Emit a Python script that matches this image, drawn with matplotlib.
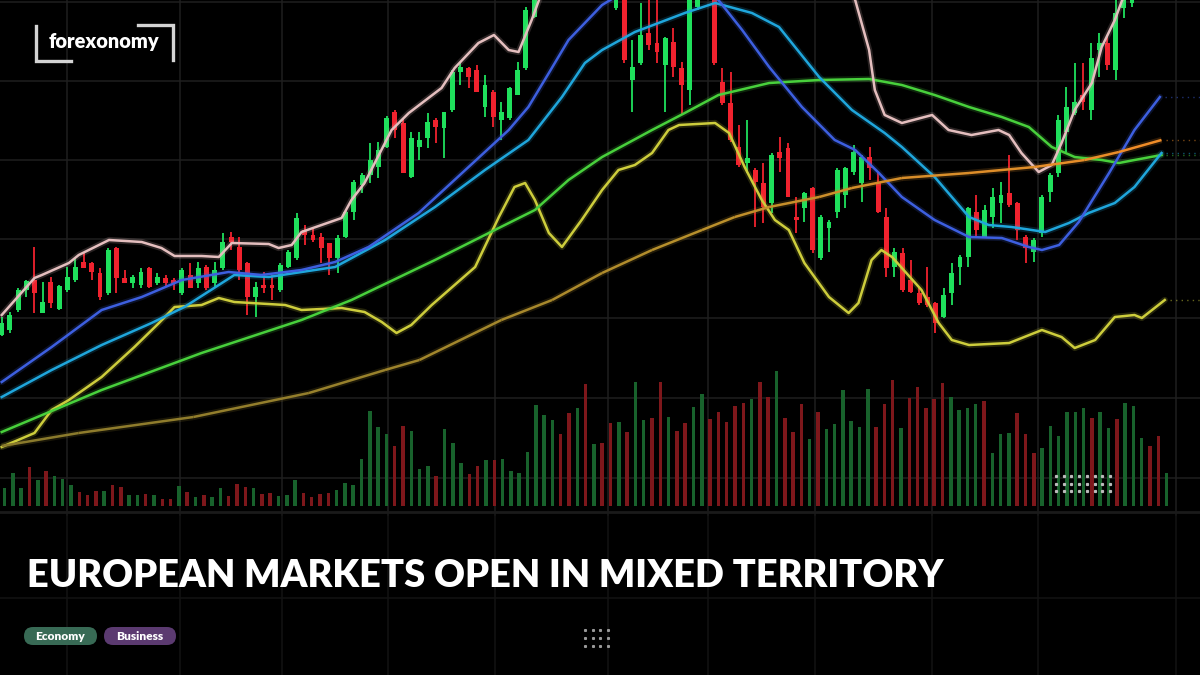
import matplotlib
matplotlib.use("Agg")
import numpy as np
import matplotlib.pyplot as plt
from matplotlib.patches import FancyBboxPatch
from matplotlib.collections import LineCollection
from matplotlib.colors import LinearSegmentedColormap

# candles, price units (one value per session)
opens = [
    340, 345, 365, 385, 395, 362, 393, 366, 385, 395,
    413, 412, 402, 382, 427, 397, 392, 390, 407, 392,
    397, 395, 382, 400, 392, 408, 392, 407, 438, 428,
    412, 378, 390, 390, 385, 408, 417, 445, 440, 438,
    432, 417, 438, 463, 490, 500, 508, 528, 563, 552,
    498, 528, 537, 555, 547, 565, 603, 607, 605, 568,
    583, 555, 557, 580, 607, 658, 685, 705, 692, 712,
    728, 710, 722, 702, 688, 667, 685, 595, 612, 642,
    632, 610, 633, 607, 585, 668, 690, 680, 593, 572,
    528, 512, 505, 492, 472, 523, 527, 458, 467, 487,
    417, 447, 463, 480, 503, 492, 518, 492, 458, 408,
    422, 395, 382, 378, 372, 358, 382, 408, 418, 463,
    438, 458, 472, 482, 472, 438, 423, 442, 483, 502,
    543, 562, 580, 565, 625, 632, 605, 667, 672, 685,
    700, 693, 708]
highs = [
    358, 363, 387, 395, 428, 393, 398, 390, 408, 417,
    422, 413, 407, 427, 428, 405, 400, 407, 408, 402,
    400, 397, 407, 412, 413, 410, 413, 442, 443, 438,
    413, 393, 403, 400, 412, 425, 462, 450, 448, 442,
    432, 440, 465, 495, 502, 532, 533, 559, 565, 557,
    543, 543, 562, 557, 563, 605, 612, 608, 610, 600,
    585, 573, 588, 613, 668, 690, 708, 712, 722, 735,
    733, 730, 726, 708, 706, 705, 690, 635, 672, 675,
    677, 638, 647, 613, 690, 700, 720, 688, 607, 603,
    550, 555, 507, 512, 522, 538, 532, 478, 483, 488,
    460, 455, 507, 508, 530, 520, 528, 502, 467, 427,
    427, 415, 388, 408, 373, 387, 412, 420, 468, 480,
    470, 487, 493, 520, 473, 440, 437, 480, 502, 560,
    588, 612, 612, 632, 642, 640, 675, 680, 690, 705,
    708, 716, 728]
lows = [
    339, 342, 363, 378, 362, 362, 367, 365, 383, 393,
    407, 395, 375, 380, 382, 392, 387, 387, 387, 390,
    388, 385, 380, 387, 387, 385, 388, 405, 425, 395,
    360, 358, 382, 375, 383, 407, 415, 430, 433, 412,
    400, 402, 437, 455, 482, 492, 497, 527, 537, 502,
    497, 515, 527, 532, 517, 563, 590, 587, 583, 558,
    548, 535, 555, 580, 605, 657, 680, 684, 688, 706,
    705, 704, 695, 684, 686, 665, 612, 563, 610, 625,
    612, 563, 598, 560, 570, 665, 686, 610, 570, 533,
    508, 502, 448, 452, 462, 503, 478, 442, 453, 422,
    415, 423, 457, 467, 500, 473, 495, 462, 398, 398,
    383, 382, 370, 368, 342, 357, 370, 390, 408, 438,
    437, 447, 452, 468, 435, 412, 413, 438, 473, 498,
    523, 560, 565, 555, 598, 605, 595, 657, 668, 680,
    686, 690, 703]
closes = [
    352, 360, 385, 394, 382, 373, 372, 389, 398, 408,
    407, 403, 378, 425, 397, 392, 398, 403, 388, 398,
    392, 392, 405, 387, 407, 387, 405, 433, 433, 405,
    378, 388, 387, 387, 410, 423, 457, 440, 435, 427,
    417, 437, 463, 493, 500, 515, 525, 557, 545, 502,
    537, 535, 553, 548, 563, 603, 608, 598, 583, 590,
    558, 563, 587, 605, 665, 685, 700, 690, 715, 730,
    712, 725, 700, 690, 700, 695, 615, 608, 640, 630,
    623, 637, 608, 590, 685, 695, 712, 612, 572, 535,
    510, 517, 493, 468, 520, 517, 478, 455, 482, 425,
    458, 453, 505, 507, 523, 518, 507, 463, 407, 423,
    385, 383, 372, 370, 352, 380, 402, 418, 467, 445,
    465, 478, 480, 470, 445, 427, 435, 478, 500, 555,
    568, 573, 573, 617, 632, 610, 662, 675, 685, 700,
    692, 710, 722]

volume = [
    18, 33, 18, 39, 26, 35, 30, 27, 21, 14,
    11, 15, 15, 21, 19, 11, 11, 12, 11, 7,
    7, 20, 14, 9, 11, 9, 18, 10, 22, 19,
    18, 12, 13, 10, 11, 26, 13, 9, 12, 13,
    16, 23, 21, 47, 95, 79, 72, 60, 80, 75,
    37, 40, 30, 77, 63, 43, 32, 40, 46, 46,
    47, 35, 33, 54, 101, 91, 86, 72, 93, 98,
    122, 62, 63,
    83, 84, 74, 124, 86, 88, 124, 89, 75, 83,
    99, 112, 87, 94, 84, 100, 103, 107, 124, 109,
    135, 88, 74, 102, 67, 94, 77, 82, 116, 85,
    79, 117, 79, 102, 126, 78, 108, 119, 98, 107,
    123, 109, 96, 98, 102, 105, 53, 72, 73, 93,
    72, 53, 58, 80, 70, 94, 94, 98, 88, 94,
    78, 87, 103, 100, 68, 60, 70, 33]
volume_side = ("GGGRGRGGGR RRGRRGGRGR RGRGRGGRRR GRRGGGRRRR GGGGGGGRRG GGRGGGRRGR GGGGGGGRRG RGR"
               "RGRGGRRGRR GGRRRRRGRR GRRRGRGGGG GGRRRGRRRR RGGGGRGGGR RRGGGGGGRG GRGGGRRG").replace(" ", "")

# moving averages / bands: (session index, price)
pink_idx = [0, 4, 4.9, 8.2, 9.4, 13.1, 17.1, 19.5, 21.1, 24.4, 26.5, 28.1, 32.6, 33.8, 35.4, 36.6,
            41.5, 42.7, 44.3, 47.6, 49.7, 53.7, 55.3, 58.2, 60.1, 61.9, 63.1, 64.7, 65.6, 68, 75,
            85, 95, 101, 104.2, 105.9, 106.6, 107.8, 109.9, 113.6, 115.6, 118.4, 121.7, 123, 124.5,
            126.6, 128.2, 129.4, 131, 133.1, 134.3, 135.9, 136.8, 139, 141.6]
pink_val = [360, 397, 400, 412, 420, 435, 433, 427, 419, 419, 418, 432, 431, 427, 430, 443,
            457, 475, 492, 545, 562, 587, 607, 632, 640, 625, 623, 655, 675, 715, 755,
            765, 745, 705, 675, 625, 585, 560, 552, 560, 545, 540, 545, 540, 522,
            503, 510, 532, 565, 592, 628, 655, 675, 705, 725]
blue_idx = [0, 6.1, 12.2, 17.1, 22, 27.7, 31.7, 36.6, 40.7, 44.8, 50.9, 57, 61.9, 64.3, 66.8,
            69.2, 73.3, 75.3, 80, 85, 87.5, 90.4, 93.7, 97.7, 101.7, 104.2, 107.1, 109.9, 113.9,
            118.1, 122.1, 125.4, 127, 129.1, 131.5, 135.2, 138.3, 141.4]
blue_val = [293, 328, 365, 378, 395, 403, 400, 405, 413, 428, 462, 508, 545, 568, 602,
            635, 670, 680, 695, 690, 675, 645, 608, 568, 535, 525, 502, 478, 455,
            438, 437, 428, 425, 430, 453, 502, 545, 578]
cyan_idx = [0, 6.1, 12.2, 18.3, 22.3, 26.5, 28.4, 32.6, 36.6, 40.7, 46.8, 52.9, 59, 64.3, 68.4,
            71.2, 73.3, 77.3, 83.4, 87.1, 91.6, 94.9, 99.8, 103.8, 107.8, 109.9, 113.9, 118.1,
            120.5, 123.3, 127.4, 130.3, 132.7, 135.9, 138.3, 141.6]
cyan_val = [278, 305, 330, 352, 368, 390, 400, 398, 403, 408, 435, 468, 505, 535, 578,
            612, 625, 643, 662, 672, 662, 648, 598, 565, 542, 528, 498, 458,
            450, 448, 443, 452, 462, 472, 488, 522]
green_idx = [0, 12.2, 24.4, 36.6, 42.7, 52.9, 60.2, 65.1, 69.2, 73.3, 79.4, 83.4, 87.5, 93.7,
             99.8, 105.9, 109.9, 113.9, 118.1, 122.1, 125.4, 128.2, 131, 134.3, 136.4, 138.3, 141.6]
green_val = [243, 285, 322, 355, 375, 415, 445, 465, 495, 518, 545, 562, 580, 592,
             595, 596, 590, 580, 568, 558, 548, 528, 518, 515, 512, 515, 520]
orange_idx = [0, 9.4, 23.4, 37.5, 46.8, 51, 61, 67.2, 73.3, 79.4, 85.5, 89.5, 93.7, 99.8, 103.8,
              109.9, 118.1, 126.1, 132.2, 136.4, 141.6]
orange_val = [229, 242, 258, 282, 305, 315, 355, 375, 402, 425, 445, 458, 468, 478, 487,
              497, 502, 508, 515, 523, 535]
yellow_idx = [0, 4, 6.1, 8.2, 12.2, 16.2, 19.2, 21.1, 24.4, 26.5, 28.4, 34.6, 36.6, 41.5, 44.3,
              46.4, 48.2, 50, 52.5, 57.8, 60.7, 62.6, 63.9, 65.1, 66.8, 68.4, 70.8, 73.3, 75.3,
              77.3, 79.4, 81.4, 82.7, 87.1, 88.8, 90.7, 92.8, 94.4, 96.1, 98, 101, 103.4, 104.6,
              106.2, 107.4, 108.7, 109.9, 112.3, 114.4, 116, 118.1, 123, 127, 129.4, 131, 133.5,
              135.9, 138.3, 139.2, 142]
yellow_val = [228, 242, 265, 275, 298, 328, 352, 368, 370, 377, 373, 370, 365, 367, 363,
              353, 342, 350, 370, 408, 458, 488, 492, 475, 442, 428, 455, 485, 505,
              510, 522, 545, 550, 552, 542, 508, 475, 455, 445, 412, 378, 362, 372,
              415, 425, 418, 407, 385, 352, 335, 330, 332, 345, 338, 327, 335,
              358, 360, 357, 375]

fig = plt.figure(figsize=(12, 6.75), dpi=100, facecolor="black")

# background grid (pixel space)
bg = fig.add_axes([0, 0, 1, 1])
bg.set_xlim(0, 1200)
bg.set_ylim(675, 0)
bg.axis("off")
for gx in [67, 180, 282, 388, 495, 608, 708, 815, 932, 1038, 1176]:
    bg.plot([gx, gx], [0, 515], color="#1f1f1f", lw=1.1)
    bg.plot([gx, gx], [515, 675], color="#131313", lw=1.1)
for gy in [2, 81, 160, 239, 318, 398, 478]:
    bg.plot([0, 1200], [gy, gy], color="#1f1f1f", lw=1.1)
bg.plot([0, 1200], [512, 512], color="#1a1a1a", lw=2)
bg.plot([0, 1200], [598, 598], color="#131313", lw=1.1)

# volume panel
axv = fig.add_axes([0, 169 / 675, 1, 146 / 675])
axv.patch.set_alpha(0)
axv.axis("off")
vcol = ["#18622c" if s == "G" else "#7e171b" for s in volume_side]
axv.bar(np.arange(len(volume)), volume, width=0.42, color=vcol)
axv.set_xlim(-0.554, 144.02)
axv.set_ylim(0, 146)

# price panel
ax = fig.add_axes([0, 0, 1, 1])
ax.patch.set_alpha(0)
ax.axis("off")
o = np.array(opens)
c = np.array(closes)
idx = np.arange(len(o))
ccol = np.where(c >= o, "#1fe05c", "#f0222e")
ax.vlines(idx, lows, highs, colors=ccol, lw=1.3, zorder=2)
ax.bar(idx, np.abs(c - o), bottom=np.minimum(o, c), width=0.6, color=ccol, zorder=2)

lines = [
    (yellow_idx, yellow_val, "#cdcd3c"),
    (green_idx, green_val, "#48d03c"),
    (cyan_idx, cyan_val, "#1fa6dc"),
    (blue_idx, blue_val, "#3d5fe0"),
    (pink_idx, pink_val, "#e4bebe"),
]
for xs, ys, col in lines:
    ax.plot(xs, ys, color=col, lw=4.5, alpha=0.18, zorder=3, solid_capstyle="round")
    ax.plot(xs, ys, color=col, lw=1.8, zorder=4)
    if col != "#e4bebe":
        ax.hlines(ys[-1], xs[-1] + 0.6, 146.3, colors=col, linestyles=(0, (1, 3)),
                  lw=1, alpha=0.5, zorder=3)

# slow average fades from dull gold (left) to orange (right)
pts = np.column_stack([orange_idx, orange_val])
segs = np.stack([pts[:-1], pts[1:]], axis=1)
cmap = LinearSegmentedColormap.from_list("slow", ["#8a7a2c", "#b8902c", "#f08c28"])
shade = np.linspace(0, 1, len(segs))
ax.add_collection(LineCollection(segs, colors=cmap(shade), linewidths=4.5, alpha=0.18, zorder=3))
ax.add_collection(LineCollection(segs, colors=cmap(shade), linewidths=1.8, zorder=4))
ax.hlines(orange_val[-1], orange_idx[-1] + 0.6, 146.3, colors="#f08c28", linestyles=(0, (1, 3)),
          lw=1, alpha=0.5, zorder=3)

ax.set_xlim(-0.21, 146.3)
ax.set_ylim(0, 675)

# overlay: logo, dots, title, tags
ov = fig.add_axes([0, 0, 1, 1])
ov.patch.set_alpha(0)
ov.set_xlim(0, 1200)
ov.set_ylim(675, 0)
ov.axis("off")

for k in range(8):
    for yy in [476, 483.5, 491]:
        ov.plot(1056 + 7.7 * k, yy, "s", color="#bbbbbb", ms=1.3)
for k in range(4):
    for yy in [630, 638, 646]:
        ov.plot(585 + 7.7 * k, yy, "s", color="#999999", ms=1.2)

bc = "#d4d4d4"
ov.plot([36, 36, 71], [26, 61, 61], color=bc, lw=2.4, solid_joinstyle="miter")
ov.plot([138, 173, 173], [24.5, 24.5, 60], color=bc, lw=2.4, solid_joinstyle="miter")
logo = ov.text(49, 48, "forexonomy", color="white", fontsize=14, fontweight="heavy",
               family="Lato", ha="left", va="baseline")

title = ov.text(27, 587, "EUROPEAN MARKETS OPEN IN MIXED TERRITORY", color="white",
                fontsize=30, fontweight="heavy", family="Lato", ha="left", va="baseline")

fig.canvas.draw()
w = logo.get_window_extent().width
logo.set_fontsize(14 * 111 / w)
w = title.get_window_extent().width
title.set_fontsize(30 * 916 / w)

for x0, x1, lab, col in [(24, 97, "Economy", "#386a55"), (104, 176, "Business", "#5b3a70")]:
    ov.add_patch(FancyBboxPatch((x0, 627), x1 - x0, 18, boxstyle="round,pad=0,rounding_size=9",
                                facecolor=col, edgecolor="none"))
    ov.text((x0 + x1) / 2, 636.5, lab, color="white", fontsize=8.6, fontweight="heavy",
            family="Lato", ha="center", va="center")

fig.savefig("out.png", dpi=100, facecolor="black")
